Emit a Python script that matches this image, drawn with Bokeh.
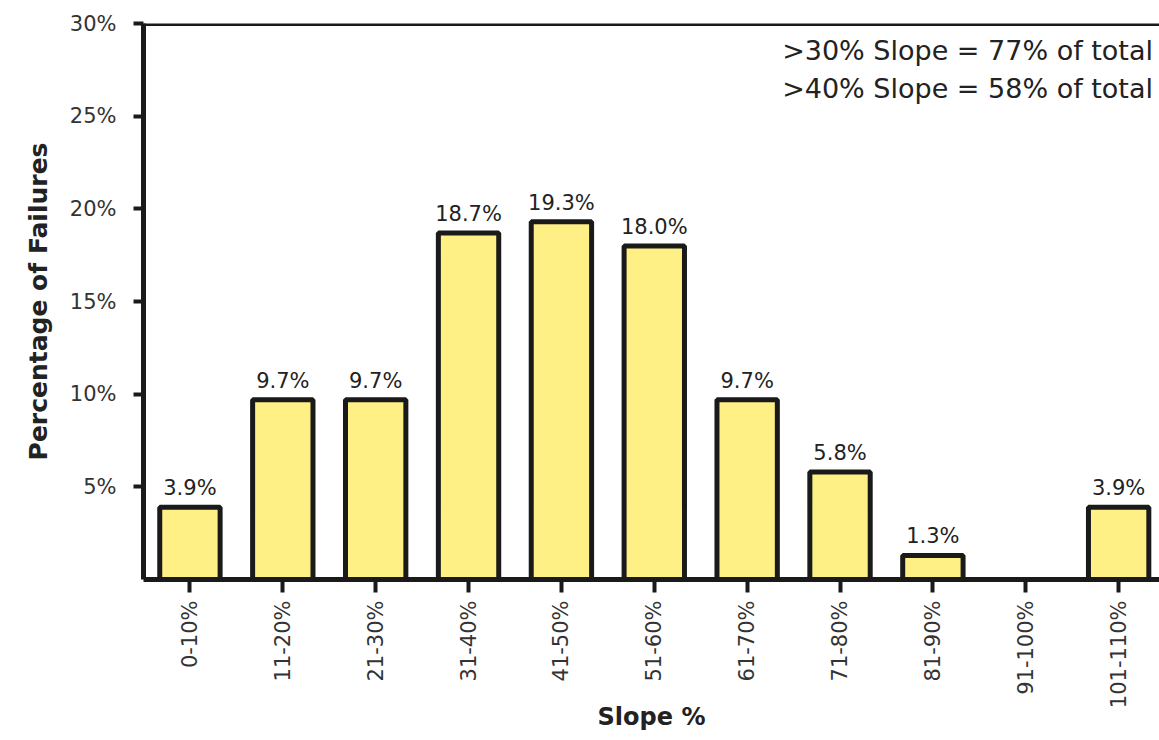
from bokeh.plotting import figure
from bokeh.models import FixedTicker, Range1d, Span, Label, ColumnDataSource
from bokeh.embed import file_html
from bokeh.resources import INLINE

categories = ["0-10%", "11-20%", "21-30%", "31-40%", "41-50%", "51-60%",
              "61-70%", "71-80%", "81-90%", "91-100%", "101-110%"]
values = [3.9, 9.7, 9.7, 18.7, 19.3, 18.0, 9.7, 5.8, 1.3, 0.0, 3.9]
y_ticks = [5, 10, 15, 20, 25, 30]
notes = [">30% Slope = 77% of total", ">40% Slope = 58% of total"]

FONT = "DejaVu Sans"
xs = list(range(len(categories)))
labels = [f"{v}%" if v > 0 else "" for v in values]
src = ColumnDataSource(dict(x=xs, top=values, label=labels))

p = figure(width=1159, height=740, output_backend="svg", toolbar_location=None,
           x_range=Range1d(-0.5, 10.44), y_range=Range1d(0, 30),
           min_border_left=143, min_border_right=0, min_border_top=23,
           min_border_bottom=161)
p.outline_line_color = None
p.grid.grid_line_color = None
p.background_fill_color = "white"
p.border_fill_color = "white"

p.vbar(x="x", top="top", width=0.65, source=src, fill_color="#FFF085",
       line_color="#1a1a1a", line_width=5)
p.text(x="x", y="top", text="label", source=src, text_align="center",
       text_baseline="bottom", y_offset=-7, text_font_size="21px",
       text_color="#222222", text_font={"value": FONT})

p.add_layout(Span(location=30, dimension="width", line_color="#1a1a1a", line_width=5))

for i, t in enumerate(notes):
    p.add_layout(Label(x=10.37, y=28.55 - 2.05 * i, text=t, text_align="right",
                       text_baseline="middle", text_font_size="27px",
                       text_color="#222222", text_font=FONT))

# y axis
p.yaxis.ticker = FixedTicker(ticks=y_ticks)
p.yaxis.major_label_overrides = {t: f"{t}%" for t in y_ticks}
p.yaxis.axis_line_width = 5
p.yaxis.axis_line_color = "#1a1a1a"
p.yaxis.major_tick_line_width = 4
p.yaxis.major_tick_line_color = "#1a1a1a"
p.yaxis.major_tick_out = 10
p.yaxis.major_tick_in = 0
p.yaxis.minor_tick_line_color = None
p.yaxis.major_label_text_font = FONT
p.yaxis.major_label_text_font_size = "21px"
p.yaxis.major_label_text_color = "#333333"
p.yaxis.major_label_standoff = 17
p.yaxis.axis_label = "Percentage of Failures"
p.yaxis.axis_label_text_font = FONT
p.yaxis.axis_label_text_font_style = "bold"
p.yaxis.axis_label_text_font_size = "25px"
p.yaxis.axis_label_text_color = "#222222"
p.yaxis.axis_label_standoff = 14

# x axis
p.xaxis.ticker = FixedTicker(ticks=xs)
p.xaxis.major_label_overrides = {i: c for i, c in zip(xs, categories)}
p.xaxis.major_label_orientation = 1.5707963
p.xaxis.axis_line_width = 5
p.xaxis.axis_line_color = "#1a1a1a"
p.xaxis.major_tick_line_width = 4
p.xaxis.major_tick_line_color = "#1a1a1a"
p.xaxis.major_tick_out = 13
p.xaxis.major_tick_in = 0
p.xaxis.minor_tick_line_color = None
p.xaxis.major_label_text_font = FONT
p.xaxis.major_label_text_font_size = "21px"
p.xaxis.major_label_text_color = "#333333"
p.xaxis.major_label_standoff = 8
p.xaxis.axis_label = "Slope %"
p.xaxis.axis_label_text_font = FONT
p.xaxis.axis_label_text_font_style = "bold"
p.xaxis.axis_label_text_font_size = "24px"
p.xaxis.axis_label_text_color = "#222222"
p.xaxis.axis_label_standoff = -8

open("out.html", "w").write(file_html(p, INLINE))
